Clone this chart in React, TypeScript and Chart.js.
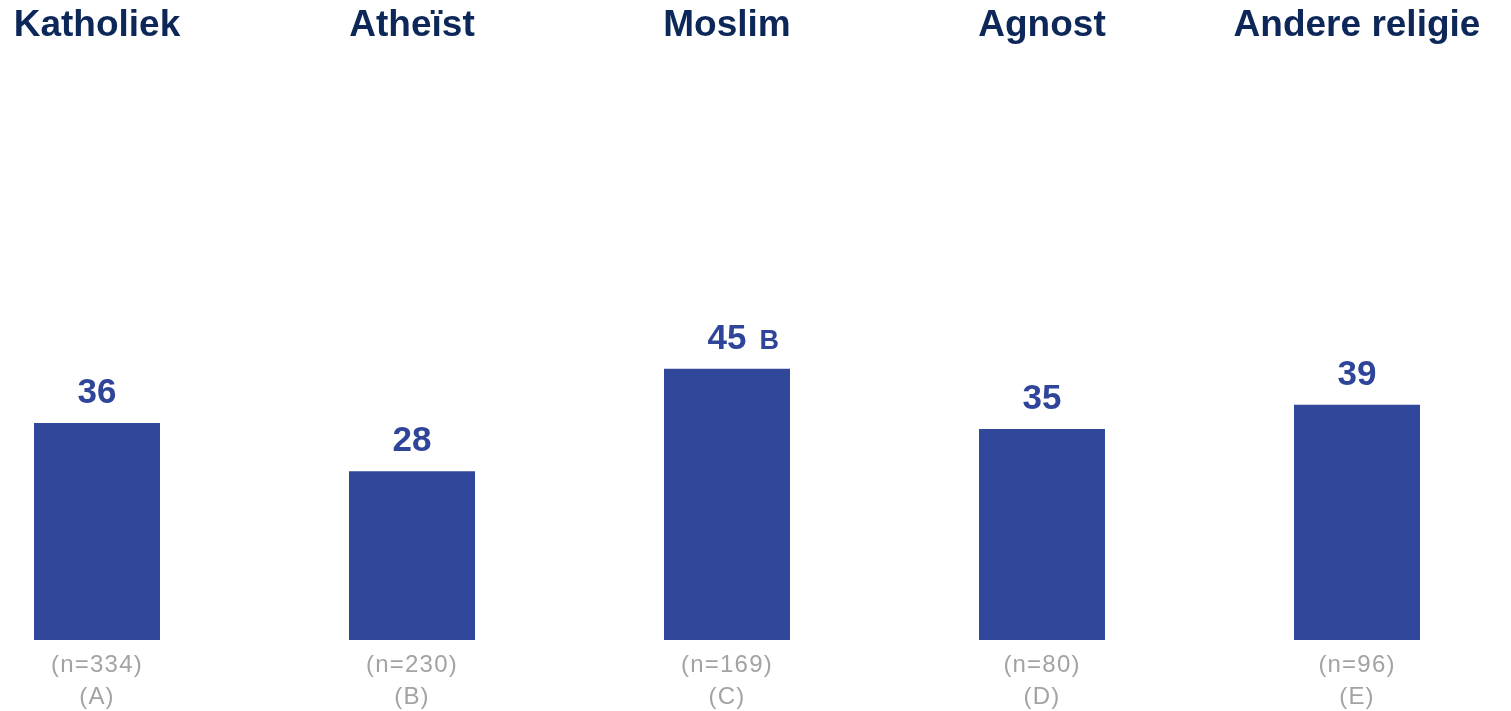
import React, { useEffect, useRef } from 'react';
import { Chart, registerables } from 'chart.js';

Chart.register(...registerables);

const categories = ['Katholiek', 'Atheïst', 'Moslim', 'Agnost', 'Andere religie'];
const values = [36, 28, 45, 35, 39];
const sigLetters = ['', '', 'B', '', ''];
const sampleSizes = ['(n=334)', '(n=230)', '(n=169)', '(n=80)', '(n=96)'];
const groupLetters = ['(A)', '(B)', '(C)', '(D)', '(E)'];

const BAR_COLOR = '#31479A';
const VALUE_COLOR = '#2F4599';
const TITLE_COLOR = '#0C2758';
const GRAY = '#A3A3A3';
const FONT = '"Liberation Sans", Arial, sans-serif';

const labelPlugin = {
  id: 'customLabels',
  afterDatasetsDraw(chart: any) {
    const ctx = chart.ctx;
    const meta = chart.getDatasetMeta(0);
    ctx.save();
    meta.data.forEach((bar: any, i: number) => {
      const x = bar.x;
      ctx.textAlign = 'center';
      ctx.textBaseline = 'alphabetic';
      // title
      ctx.font = `bold 37px ${FONT}`;
      ctx.fillStyle = TITLE_COLOR;
      ctx.fillText(categories[i], x, 36);
      // value
      ctx.font = `bold 35px ${FONT}`;
      ctx.fillStyle = VALUE_COLOR;
      const vText = String(values[i]);
      const vy = bar.y - 20;
      ctx.fillText(vText, x, vy);
      if (sigLetters[i]) {
        const w = ctx.measureText(vText).width;
        ctx.font = `bold 27px ${FONT}`;
        ctx.textAlign = 'left';
        ctx.fillText(sigLetters[i], x + w / 2 + 13, vy);
        ctx.textAlign = 'center';
      }
      // bottom labels
      ctx.font = `24px ${FONT}`;
      ctx.fillStyle = GRAY;
      (ctx as any).letterSpacing = '1.2px';
      ctx.fillText(sampleSizes[i], x, 672);
      ctx.fillText(groupLetters[i], x, 704);
      (ctx as any).letterSpacing = '0px';
    });
    ctx.restore();
  },
};

export default function App() {
  const ref = useRef<HTMLCanvasElement | null>(null);
  useEffect(() => {
    if (!ref.current) return;
    const chart = new Chart(ref.current, {
      type: 'bar',
      data: {
        labels: categories,
        datasets: [
          {
            data: values,
            backgroundColor: BAR_COLOR,
            borderWidth: 0,
            barPercentage: 0.4,
            categoryPercentage: 1,
            clip: false as any,
          },
        ],
      },
      options: {
        animation: false,
        responsive: true,
        maintainAspectRatio: false,
        layout: { padding: { left: 97, right: 154, top: 37, bottom: 71 } },
        plugins: { legend: { display: false }, tooltip: { enabled: false }, title: { display: false } },
        scales: {
          x: { display: false, offset: false, grid: { display: false } },
          y: { display: false, min: 0, max: 100, grid: { display: false } },
        },
      },
      plugins: [labelPlugin],
    });
    return () => chart.destroy();
  }, []);
  return (
    <div style={{ position: 'fixed', left: 0, top: 0, width: 1511, height: 711, background: '#fff' }}>
      <canvas ref={ref} />
    </div>
  );
}
